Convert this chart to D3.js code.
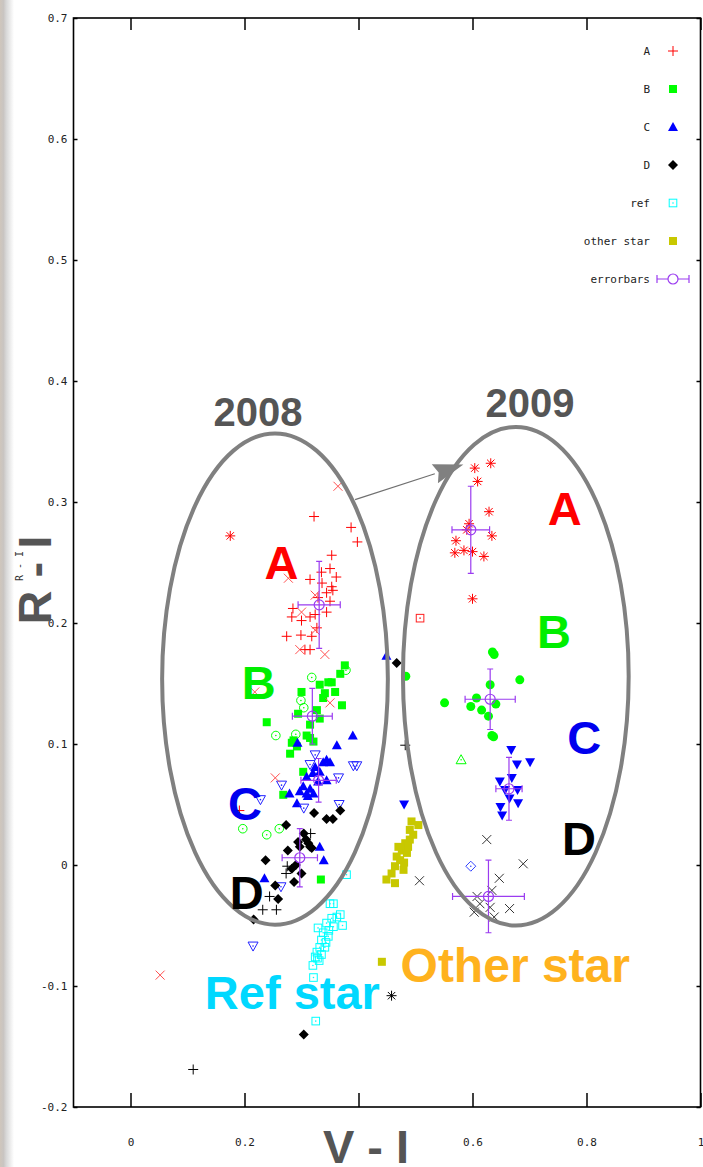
<!DOCTYPE html>
<html>
<head>
<meta charset="utf-8">
<style>
    body { margin: 0; background: #fff; }
    svg { display: block; }
    .tick text { font-family: "DejaVu Sans Mono", monospace; font-size: 11px; fill: #222; }
    .big { font-family: "Liberation Sans", Arial, sans-serif; font-weight: bold; text-anchor: middle; }
    .leg { font-family: "DejaVu Sans Mono", monospace; font-size: 11px; fill: #222; text-anchor: end; }
</style>
</head>
<body>
<svg width="703" height="1167"></svg>
<script src="https://d3js.org/d3.v7.min.js"></script>
<script>

// ---- data (V-I, R-I) ----

// group A
let ptsA = [[0.322,0.288],[0.387,0.279],[0.398,0.267],[0.353,0.256],[0.350,0.245],[0.335,0.242],[0.361,0.238],
    [0.315,0.236],[0.353,0.230],[0.355,0.227],[0.344,0.225],[0.350,0.218],[0.344,0.209],[0.283,0.205],[0.300,0.202],
    [0.315,0.205],[0.324,0.207],[0.274,0.189],[0.299,0.190],[0.318,0.189],[0.327,0.196],[0.315,0.178],[0.306,0.178],
    [0.285,0.212],[0.329,0.221],[0.336,0.233],[0.191,0.045]]
let ptsAcross = [[0.364,0.313],[0.277,0.237],[0.324,0.223],[0.300,0.209],[0.324,0.194],[0.297,0.178],[0.341,0.174],
    [0.218,0.143],[0.350,0.134],[0.254,0.072],[0.052,-0.091]]
let ptsAstar = [[0.175,0.272],[0.604,0.328],[0.632,0.332],[0.609,0.317],[0.629,0.292],[0.594,0.282],[0.634,0.272],
    [0.571,0.268],[0.569,0.258],[0.585,0.260],[0.600,0.259],[0.620,0.255],[0.600,0.220],[0.590,0.277]]
let ptsAbox = [[0.508,0.204]]

// group B
let ptsB = [[0.368,0.158],[0.353,0.151],[0.332,0.149],[0.371,0.132],[0.300,0.143],[0.338,0.138],[0.327,0.128],
    [0.294,0.125],[0.239,0.118],[0.332,0.121],[0.315,0.105],[0.321,0.102],[0.286,0.103],[0.280,0.092],[0.292,0.098],
    [0.303,0.077],[0.268,0.058],[0.334,-0.012],[0.359,0.143],[0.309,0.107],[0.283,0.101],[0.347,0.151],[0.376,0.165],
    [0.315,0.116],[0.341,0.142]]
let ptsBcircle = [[0.318,0.155],[0.378,0.161],[0.299,0.136],[0.304,0.130],[0.255,0.107],[0.290,0.108],
    [0.197,0.030],[0.239,0.025],[0.261,0.030]]
let ptsBdot = [[0.635,0.176],[0.638,0.174],[0.683,0.153],[0.483,0.156],[0.631,0.149],[0.551,0.134],[0.607,0.138],
    [0.597,0.131],[0.616,0.128],[0.641,0.133],[0.628,0.123],[0.637,0.106],[0.634,0.107]]
let ptsBtri = [[0.580,0.087]]

// group C
let ptsC = [[0.390,0.107],[0.362,0.099],[0.293,0.101],[0.344,0.087],[0.350,0.085],[0.338,0.085],[0.324,0.081],
    [0.332,0.077],[0.320,0.076],[0.309,0.073],[0.303,0.065],[0.315,0.063],[0.321,0.059],[0.309,0.059],[0.297,0.061],
    [0.279,0.059],[0.292,0.051],[0.344,0.070],[0.332,0.015],[0.339,0.004],[0.235,-0.011],[0.449,0.173],
    [0.329,0.069],[0.311,0.057]]
let ptsCinv = [[0.324,0.091],[0.315,0.083],[0.391,0.082],[0.397,0.082],[0.365,0.072],[0.265,0.066],[0.228,0.054],
    [0.304,0.047],[0.366,0.050],[0.264,-0.018],[0.215,-0.067]]
let ptsCinvFill = [[0.668,0.095],[0.701,0.085],[0.678,0.083],[0.648,0.069],[0.669,0.072],[0.679,0.062],[0.657,0.062],
    [0.665,0.055],[0.680,0.051],[0.649,0.048],[0.652,0.041],[0.480,0.050]]
let ptsCdiam = [[0.597,-0.001]]

// group D
let ptsD = [[0.322,0.043],[0.344,0.038],[0.355,0.038],[0.368,0.045],[0.273,0.033],[0.304,0.026],[0.308,0.021],
    [0.312,0.018],[0.315,0.015],[0.318,0.014],[0.297,0.015],[0.294,0.019],[0.276,0.012],[0.237,0.004],[0.290,0.000],
    [0.283,-0.003],[0.300,-0.007],[0.287,-0.014],[0.254,-0.017],[0.259,-0.028],[0.216,-0.045],[0.467,0.167],
    [0.304,-0.140]]
let ptsDplus = [[0.316,0.026],[0.275,-0.001],[0.273,-0.007],[0.244,-0.026],[0.232,-0.037],[0.256,-0.037],
    [0.482,0.099],[0.110,-0.169]]
let ptsDcross = [[0.625,0.021],[0.689,0.001],[0.647,-0.011],[0.507,-0.013],[0.634,-0.021],[0.608,-0.026],
    [0.631,-0.035],[0.665,-0.036],[0.603,-0.039],[0.638,-0.043],[0.613,-0.032]]
let ptsDstar = [[0.458,-0.108]]

// comparison stars
let ptsRef = [[0.379,-0.008],[0.350,-0.032],[0.356,-0.032],[0.368,-0.041],[0.372,-0.050],[0.329,-0.052],
    [0.344,-0.048],[0.353,-0.044],[0.338,-0.056],[0.335,-0.062],[0.332,-0.068],[0.327,-0.072],[0.324,-0.076],
    [0.320,-0.083],[0.321,-0.093],[0.325,-0.129],[0.347,-0.059],[0.341,-0.068],[0.335,-0.074],[0.356,-0.051],
    [0.362,-0.043],[0.348,-0.054],[0.331,-0.079],[0.343,-0.064],[0.328,-0.077]]
let ptsOther = [[0.493,0.036],[0.505,0.033],[0.490,0.021],[0.482,0.018],[0.476,0.012],[0.467,0.007],[0.485,0.010],
    [0.464,-0.001],[0.479,-0.004],[0.458,-0.007],[0.449,-0.012],[0.464,-0.015],[0.490,0.029],[0.473,0.004],
    [0.487,0.015],[0.470,0.015],[0.496,0.025],[0.480,0.002],[0.441,-0.080]]

// mean values with error bars (2008 A-D, 2009 A-D)
let errX  = [0.331, 0.319, 0.330, 0.297, 0.597, 0.631, 0.664, 0.628]
let errY  = [0.215, 0.123, 0.070, 0.006, 0.277, 0.137, 0.063, -0.026]
let errDx = [0.037, 0.035, 0.031, 0.031, 0.033, 0.044, 0.023, 0.063]
let errDy = [0.036, 0.023, 0.018, 0.024, 0.036, 0.025, 0.026, 0.030]

let xTicks = [0, 0.2, 0.4, 0.6, 0.8, 1]
let xHidden = [0.4]   // label covered by the "V - I" title in the original
let yTicks = [-0.2, -0.1, 0, 0.1, 0.2, 0.3, 0.4, 0.5, 0.6, 0.7]
let legendNames = ["A", "B", "C", "D", "ref", "other star", "errorbars"]

// ---- chart ----

let svg = d3.select("svg")

let x = d3.scaleLinear().domain([-0.1, 1.0]).range([73.5, 700.5])
let y = d3.scaleLinear().domain([-0.2, 0.7]).range([1107, 18])

// window frame strip on the left
let defs = svg.append("defs")
let grad = defs.append("linearGradient").attr("id", "edge")
grad.append("stop").attr("offset", "0").attr("stop-color", "#cfc6bc")
grad.append("stop").attr("offset", "0.25").attr("stop-color", "#c9c5c2")
grad.append("stop").attr("offset", "0.45").attr("stop-color", "#d8d8d8")
grad.append("stop").attr("offset", "1").attr("stop-color", "#ffffff")
svg.append("rect").attr("x", 0).attr("y", 0).attr("width", 14).attr("height", 1167).attr("fill", "url(#edge)")

// axes (gnuplot style: ticks point inward, mirrored)
svg.append("g")
    .attr("class", "y axis")
    .attr("transform", `translate(${x(-0.1)},0)`)
    .call(d3.axisLeft(y).tickValues(yTicks).tickSizeInner(-4).tickSizeOuter(0).tickPadding(6)
        .tickFormat(d => d3.format("")(d).replace("−", "-")))
    .call(g => g.select(".domain").remove())

svg.append("g")
    .attr("transform", `translate(${x(1.0)},0)`)
    .call(d3.axisRight(y).tickValues(yTicks).tickSizeInner(-4).tickSizeOuter(0).tickFormat(""))
    .call(g => g.select(".domain").remove())

svg.append("g")
    .attr("class", "x axis")
    .attr("transform", `translate(0,${y(-0.2)})`)
    .call(d3.axisBottom(x).tickValues(xTicks).tickSizeInner(-14).tickSizeOuter(0).tickPadding(31)
        .tickFormat(d => xHidden.includes(d) ? "" : d3.format("")(d)))
    .call(g => g.select(".domain").remove())

svg.append("g")
    .attr("transform", `translate(0,${y(0.7)})`)
    .call(d3.axisTop(x).tickValues(xTicks).tickSizeInner(-12).tickSizeOuter(0).tickFormat(""))
    .call(g => g.select(".domain").remove())

svg.selectAll(".tick line").attr("stroke", "#000").attr("stroke-width", 1.5)

svg.append("rect")
    .attr("x", x(-0.1)).attr("y", y(0.7))
    .attr("width", x(1.0) - x(-0.1)).attr("height", y(-0.2) - y(0.7))
    .attr("fill", "none").attr("stroke", "#000").attr("stroke-width", 1.6)

// point symbols
function drawMark(g, type, color) {
    let dot = () => g.append("circle").attr("r", 0.8).attr("fill", color)
    if (type == "plus") {
        g.append("path").attr("d", "M-5,0H5M0,-5V5").attr("stroke", color).attr("fill", "none")
    } else if (type == "cross") {
        g.append("path").attr("d", "M-4.5,-4.5L4.5,4.5M-4.5,4.5L4.5,-4.5").attr("stroke", color).attr("fill", "none")
    } else if (type == "star") {
        g.append("path").attr("d", "M-5,0H5M0,-5V5M-3.7,-3.7L3.7,3.7M-3.7,3.7L3.7,-3.7").attr("stroke", color).attr("fill", "none")
    } else if (type == "sqFill") {
        g.append("rect").attr("x", -4).attr("y", -4).attr("width", 8).attr("height", 8).attr("fill", color)
    } else if (type == "sqOpen") {
        g.append("rect").attr("x", -3.8).attr("y", -3.8).attr("width", 7.6).attr("height", 7.6).attr("fill", "none").attr("stroke", color)
        dot()
    } else if (type == "ciOpen") {
        g.append("circle").attr("r", 4.3).attr("fill", "none").attr("stroke", color)
        dot()
    } else if (type == "ciFill") {
        g.append("circle").attr("r", 4.5).attr("fill", color)
    } else if (type == "triFill") {
        g.append("path").attr("d", "M0,-5L5,4H-5Z").attr("fill", color)
    } else if (type == "triOpen") {
        g.append("path").attr("d", "M0,-5L5,4H-5Z").attr("fill", "none").attr("stroke", color)
        dot()
    } else if (type == "invFill") {
        g.append("path").attr("d", "M0,5L5,-4H-5Z").attr("fill", color)
    } else if (type == "invOpen") {
        g.append("path").attr("d", "M0,5L5,-4H-5Z").attr("fill", "none").attr("stroke", color)
        dot()
    } else if (type == "diaFill") {
        g.append("path").attr("d", "M0,-5L5,0L0,5L-5,0Z").attr("fill", color)
    } else if (type == "diaOpen") {
        g.append("path").attr("d", "M0,-5L5,0L0,5L-5,0Z").attr("fill", "none").attr("stroke", color)
        dot()
    }
}

let series = [
    { pts: ptsRef, type: "sqOpen", color: "#00ffff" },
    { pts: ptsOther, type: "sqFill", color: "#c8c800" },
    { pts: ptsB, type: "sqFill", color: "#00ff00" },
    { pts: ptsBcircle, type: "ciOpen", color: "#00ff00" },
    { pts: ptsBdot, type: "ciFill", color: "#00ff00" },
    { pts: ptsBtri, type: "triOpen", color: "#00ff00" },
    { pts: ptsC, type: "triFill", color: "#0000ff" },
    { pts: ptsCinv, type: "invOpen", color: "#2222ff" },
    { pts: ptsCinvFill, type: "invFill", color: "#0000ff" },
    { pts: ptsCdiam, type: "diaOpen", color: "#3344ff" },
    { pts: ptsD, type: "diaFill", color: "#000000" },
    { pts: ptsDplus, type: "plus", color: "#000000" },
    { pts: ptsDcross, type: "cross", color: "#333333" },
    { pts: ptsDstar, type: "star", color: "#000000" },
    { pts: ptsA, type: "plus", color: "#ff0000" },
    { pts: ptsAcross, type: "cross", color: "#ff5050" },
    { pts: ptsAstar, type: "star", color: "#ff0000" },
    { pts: ptsAbox, type: "sqOpen", color: "#ff2020" }
]

series.forEach(s => {
    svg.append("g")
        .selectAll("g")
        .data(s.pts)
        .join("g")
        .attr("transform", d => `translate(${x(d[0])},${y(d[1])})`)
        .each(function () { drawMark(d3.select(this), s.type, s.color) })
})

// error bars
let purple = "#9b3cf0"
let eb = svg.append("g").attr("stroke", purple).attr("fill", "none").attr("stroke-width", 1.2)
errX.forEach((ex, i) => {
    let cx = x(ex), cy = y(errY[i])
    let x0 = x(ex - errDx[i]), x1 = x(ex + errDx[i])
    let y0 = y(errY[i] - errDy[i]), y1 = y(errY[i] + errDy[i])
    eb.append("path").attr("d",
        `M${x0},${cy}H${x1}M${cx},${y0}V${y1}` +
        `M${x0},${cy - 3.5}V${cy + 3.5}M${x1},${cy - 3.5}V${cy + 3.5}` +
        `M${cx - 3},${y0}H${cx + 3}M${cx - 3},${y1}H${cx + 3}`)
    eb.append("circle").attr("cx", cx).attr("cy", cy).attr("r", 5)
})

// legend
let legTypes = [["plus", "#ff0000"], ["sqFill", "#00ff00"], ["triFill", "#0000ff"], ["diaFill", "#000000"],
    ["sqOpen", "#00ffff"], ["sqFill", "#c8c800"], ["err", purple]]
legendNames.forEach((name, i) => {
    let ly = 51 + i * 38
    svg.append("text").attr("class", "leg").attr("x", 650).attr("y", ly + 4).text(name)
    let g = svg.append("g").attr("transform", `translate(673,${ly})`)
    if (legTypes[i][0] == "err") {
        g.append("path").attr("d", "M-16,0H16M-16,-4V4M16,-4V4").attr("stroke", purple).attr("fill", "none").attr("stroke-width", 1.2)
        g.append("circle").attr("r", 5).attr("fill", "#fff").attr("stroke", purple).attr("stroke-width", 1.2)
    } else {
        drawMark(g, legTypes[i][0], legTypes[i][1])
    }
})

// annotations drawn on top
let ann = svg.append("g")

ann.append("ellipse")
    .attr("cx", x(0.2535)).attr("cy", y(0.1537))
    .attr("rx", x(0.198) - x(0)).attr("ry", y(0) - y(0.203))
    .attr("fill", "none").attr("stroke", "#808080").attr("stroke-width", 4)
ann.append("ellipse")
    .attr("cx", x(0.676)).attr("cy", y(0.156))
    .attr("rx", x(0.198) - x(0)).attr("ry", y(0) - y(0.206))
    .attr("fill", "none").attr("stroke", "#808080").attr("stroke-width", 4)

// arrow 2008 -> 2009
let a0 = [x(0.394), y(0.302)], a1 = [x(0.584), y(0.331)]
let len = Math.hypot(a1[0] - a0[0], a1[1] - a0[1])
let ux = (a1[0] - a0[0]) / len, uy = (a1[1] - a0[1]) / len
let bx = a1[0] - 30 * ux, by = a1[1] - 30 * uy
ann.append("line")
    .attr("x1", a0[0]).attr("y1", a0[1]).attr("x2", bx).attr("y2", by)
    .attr("stroke", "#707070").attr("stroke-width", 1.2)
ann.append("path")
    .attr("d", `M${a1[0]},${a1[1]}L${bx - 10 * uy},${by + 10 * ux}L${bx + 4 * ux},${by + 4 * uy}L${bx + 10 * uy},${by - 10 * ux}Z`)
    .attr("fill", "#808080")

function bigText(tx, ty, str, size, color) {
    return ann.append("text").attr("class", "big")
        .attr("x", x(tx)).attr("y", y(ty))
        .attr("font-size", size).attr("fill", color).text(str)
}

bigText(0.2235, 0.363, "2008", 40, "#555555")
bigText(0.701, 0.370, "2009", 40, "#555555")
bigText(0.265, 0.236, "A", 47, "#ff0000")
bigText(0.762, 0.281, "A", 47, "#ff0000")
bigText(0.225, 0.137, "B", 47, "#00ee00")
bigText(0.743, 0.179, "B", 47, "#00ee00")
bigText(0.201, 0.037, "C", 47, "#0000ee")
bigText(0.796, 0.092, "C", 47, "#0000ee")
bigText(0.204, -0.036, "D", 47, "#000000")
bigText(0.787, 0.008, "D", 47, "#000000")
bigText(0.284, -0.119, "Ref star", 47, "#00d8ff")
bigText(0.675, -0.097, "Other star", 48, "#ffb21e")

// axis titles
ann.append("text").attr("class", "big")
    .attr("x", 366).attr("y", 1163)
    .attr("font-size", 47).attr("fill", "#555555").text("V - I")

ann.append("text")
    .attr("transform", "translate(23,566) rotate(-90)")
    .attr("text-anchor", "middle")
    .style("font-family", "DejaVu Sans Mono, monospace").style("font-size", "10px").attr("fill", "#333")
    .text("R - I")
ann.append("text").attr("class", "big")
    .attr("transform", "translate(51,580) rotate(-90)")
    .attr("font-size", 47).attr("fill", "#555555").text("R - I")

</script>
</body>
</html>
